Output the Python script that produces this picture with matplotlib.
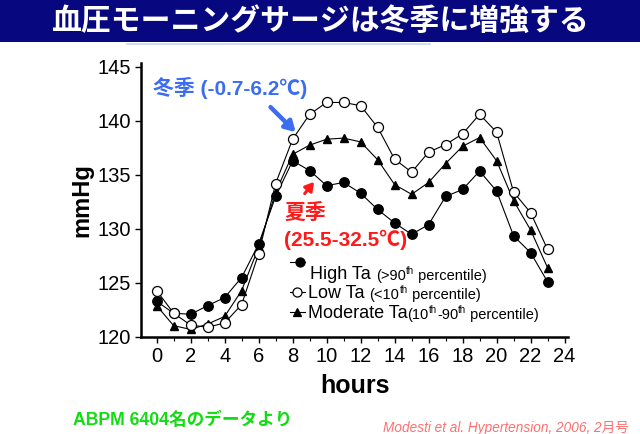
import matplotlib
matplotlib.use("Agg")
import matplotlib.pyplot as plt
from matplotlib.patches import Rectangle
from matplotlib.lines import Line2D

plt.rcParams['font.family'] = ['Liberation Sans', 'Noto Sans CJK JP', 'DejaVu Sans']

hours = list(range(24))
high_ta = [123.3, 122.2, 122.1, 122.9, 123.65, 125.5, 128.6, 133.0, 136.3, 135.4, 134.0, 134.3,
           133.3, 131.8, 130.55, 129.5, 130.4, 133.0, 133.65, 135.35, 133.5, 129.35, 127.8, 125.1]
low_ta = [124.3, 122.2, 121.1, 120.9, 121.3, 123.0, 127.7, 134.2, 138.3, 140.6, 141.7, 141.7,
          141.4, 139.4, 136.45, 135.25, 137.1, 137.8, 138.8, 140.6, 138.95, 133.4, 131.5, 128.1]
mod_ta = [122.9, 121.05, 120.7, 121.2, 121.9, 124.3, 128.3, 133.4, 136.9, 137.75, 138.3, 138.4,
          138.05, 136.4, 134.1, 133.2, 134.3, 136.05, 137.65, 138.45, 136.3, 132.6, 129.9, 126.4]

x_ticks = list(range(0, 25, 2))
y_ticks = [120, 125, 130, 135, 140, 145]

W, H = 640, 434
fig = plt.figure(figsize=(6.4, 4.34), dpi=100)

def fx(px):
    return px / W

def fy(py):
    return 1 - py / H

# title band
fig.patches.append(Rectangle((0, fy(42)), 1, 42 / H, transform=fig.transFigure,
                             facecolor='#07077f', edgecolor='none', zorder=0))
fig.lines.append(Line2D([fx(127), fx(430)], [fy(43.5), fy(43.5)], transform=fig.transFigure,
                        color='#c8d8f0', lw=1.2))
fig.text(0.5, fy(21), '血圧モーニングサージは冬季に増強する', color='white', fontsize=21.5,
         fontweight='bold', ha='center', va='center',
         family=['Noto Sans CJK JP', 'DejaVu Sans'])

ax = fig.add_axes([fx(141), fy(337), fx(568) - fx(141), fy(63) - fy(337)])
ax.set_xlim(-0.92, 24.2)
ax.set_ylim(120, 145.35)

ax.plot(hours, high_ta, color='black', lw=0.8, marker='o', ms=6.8, mfc='black', mec='black',
        zorder=3, clip_on=False)
ax.plot(hours, low_ta, color='black', lw=0.8, marker='o', ms=7.2, mfc='white', mec='black',
        mew=0.9, zorder=4, clip_on=False)
ax.plot(hours, mod_ta, color='black', lw=0.8, marker='^', ms=6.2, mfc='black', mec='black',
        zorder=3, clip_on=False)

for s in ['top', 'right']:
    ax.spines[s].set_visible(False)
for s in ['left', 'bottom']:
    ax.spines[s].set_linewidth(1.8)

ax.set_xticks(x_ticks)
ax.set_xticks(range(0, 25), minor=True)
ax.set_yticks(y_ticks)
ax.tick_params(axis='both', which='major', labelsize=14.5, length=4, width=1, direction='out', pad=3)
ax.tick_params(axis='x', which='minor', length=3, width=0.8, direction='out')
ax.set_xlabel('hours', fontsize=18, fontweight='bold', labelpad=6)
ax.set_ylabel('mmHg', fontsize=17, fontweight='bold', labelpad=3)

# annotations
ax.text(-0.2, 143.0, '冬季 (-0.7-6.2℃)', color='#3b6cf2', fontsize=15, fontweight='bold',
        ha='left', va='center')
ax.annotate('', xy=(8.18, 138.95), xytext=(6.7, 141.27),
            arrowprops=dict(arrowstyle='-|>,head_length=0.6,head_width=0.35', color='#3b6cf2',
                            lw=3.2, shrinkA=0, shrinkB=0))
ax.text(7.49, 131.45, '夏季', color='#ff1a1a', fontsize=15, fontweight='bold',
        ha='left', va='center')
ax.text(7.49, 128.95, '(25.5-32.5℃)', color='#ff1a1a', fontsize=15, fontweight='bold',
        ha='left', va='center')
ax.annotate('', xy=(9.26, 134.35), xytext=(8.71, 133.27),
            arrowprops=dict(arrowstyle='-|>,head_length=0.5,head_width=0.3', color='#ff1a1a',
                            lw=2.2, shrinkA=0, shrinkB=0))

# legend (manual)
def marker_row(py_marker, px_marker, marker, mfc, ms):
    fig.lines.append(Line2D([fx(290), fx(305)], [fy(py_marker), fy(py_marker)],
                            transform=fig.transFigure, color='black', lw=0.8))
    fig.lines.append(Line2D([fx(px_marker)], [fy(py_marker)], transform=fig.transFigure,
                            marker=marker, ms=ms, mfc=mfc, mec='black', mew=0.9, ls='none'))

def chain(start_text, pieces):
    prev = start_text
    level = 0
    for txt, is_sup in pieces:
        target = 5 if is_sup else 0
        dy = target - level
        level = target
        prev = ax.annotate(txt, xy=(1, 0), xycoords=prev, xytext=(0, dy),
                           textcoords='offset points', fontsize=7 if is_sup else 10.5,
                           ha='left', va='bottom')
    return prev

marker_row(262, 300, 'o', 'black', 6.5)
t1 = fig.text(fx(310), fy(279), 'High Ta ', fontsize=13, ha='left', va='baseline')
chain(t1, [('(>90', False), ('th', True), (' percentile)', False)])

marker_row(292, 297, 'o', 'white', 6.5)
t2 = fig.text(fx(308), fy(298), 'Low Ta ', fontsize=13, ha='left', va='baseline')
chain(t2, [('(<10', False), ('th', True), (' percentile)', False)])

marker_row(312, 297, '^', 'black', 6)
t3 = fig.text(fx(308), fy(318), 'Moderate Ta', fontsize=13, ha='left', va='baseline')
chain(t3, [('(10', False), ('th', True), ('-90', False), ('th', True), (' percentile)', False)])

# bottom texts
fig.text(fx(73), fy(420), 'ABPM 6404名のデータより', color='#11dd11', fontsize=12.7,
         fontweight='bold', ha='left', va='center')
fig.text(fx(629), fy(428), 'Modesti et al. Hypertension, 2006, 2月号', color='#ff6f6f',
         fontsize=9.8, fontstyle='italic', ha='right', va='center')

fig.savefig('out.png', dpi=100)
